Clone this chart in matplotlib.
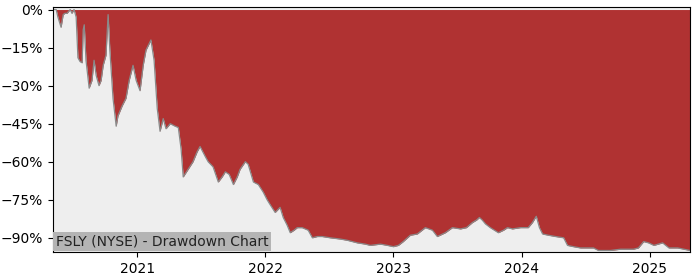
import matplotlib
matplotlib.use("Agg")
import matplotlib.pyplot as plt
import matplotlib.dates as mdates
from matplotlib.ticker import FuncFormatter
import pandas as pd

dates = [
    "2020-05-06", "2020-05-15", "2020-05-20", "2020-05-29", "2020-06-04", "2020-06-09",
    "2020-06-15", "2020-06-24", "2020-06-29", "2020-07-05", "2020-07-11", "2020-07-16",
    "2020-07-22", "2020-07-28", "2020-07-31", "2020-08-03", "2020-08-08", "2020-08-17",
    "2020-08-25", "2020-08-31", "2020-09-06", "2020-09-14", "2020-09-20", "2020-09-26",
    "2020-10-04", "2020-10-10", "2020-10-15", "2020-10-24", "2020-11-02", "2020-11-07",
    "2020-11-19", "2020-11-30", "2020-12-09", "2020-12-20", "2020-12-29", "2021-01-09",
    "2021-01-18", "2021-01-26", "2021-02-09", "2021-02-18", "2021-02-27", "2021-03-07",
    "2021-03-16", "2021-03-24", "2021-04-05", "2021-04-19", "2021-04-28", "2021-05-06",
    "2021-05-12", "2021-05-26", "2021-06-09", "2021-06-21", "2021-06-29", "2021-07-14",
    "2021-07-22", "2021-08-05", "2021-08-20", "2021-08-31", "2021-09-09", "2021-09-20",
    "2021-10-02", "2021-10-13", "2021-10-21", "2021-11-05", "2021-11-13", "2021-11-28",
    "2021-12-12", "2021-12-26", "2022-01-06", "2022-01-15", "2022-01-29", "2022-02-12",
    "2022-02-21", "2022-03-04", "2022-03-13", "2022-03-24", "2022-04-02", "2022-04-16",
    "2022-05-03", "2022-05-15", "2022-05-29", "2022-06-12", "2022-07-05", "2022-08-03",
    "2022-08-23", "2022-09-20", "2022-10-13", "2022-10-27", "2022-11-25", "2022-12-15",
    "2023-01-01", "2023-01-15", "2023-01-29", "2023-02-18", "2023-03-10", "2023-04-02",
    "2023-04-22", "2023-05-06", "2023-05-29", "2023-06-18", "2023-07-11", "2023-07-28",
    "2023-08-14", "2023-08-26", "2023-09-03", "2023-09-11", "2023-09-20", "2023-10-04",
    "2023-10-27", "2023-11-11", "2023-11-22", "2023-12-06", "2023-12-29", "2024-01-20",
    "2024-02-01", "2024-02-12", "2024-02-21", "2024-03-01", "2024-03-18", "2024-04-07",
    "2024-04-30", "2024-05-11", "2024-05-28", "2024-06-17", "2024-07-24", "2024-08-07",
    "2024-09-10", "2024-10-09", "2024-11-15", "2024-11-29", "2024-12-14", "2024-12-28",
    "2025-01-12", "2025-02-06", "2025-02-24", "2025-03-21", "2025-04-08", "2025-04-25",
]
drawdown = [
    0, 0, -3, -7, -2, -1.5,
    -1.5, 0, -1.5, 0, -3, -19,
    -20.5, -21, -8, -6, -20, -31,
    -28, -20, -26, -30, -28, -22,
    -18, -2, -16, -35, -46, -42,
    -38, -35, -28, -22, -28, -32,
    -22, -16, -12, -20, -39, -48,
    -43, -47, -45, -46, -46.5, -55,
    -66, -63, -60, -56, -54, -58,
    -60, -62, -68, -66, -64, -65,
    -69, -66, -63, -60, -61, -68,
    -69, -72, -75, -77, -80, -78,
    -82, -85, -88, -87, -86, -86,
    -87, -90, -89.5, -89.5, -90, -90.5,
    -91, -92, -92.5, -93, -92.5, -93,
    -93.5, -93, -91.5, -89, -88.5, -86,
    -87, -89.5, -88, -86, -86.5, -86,
    -84, -83, -82, -83, -84.5, -86,
    -88, -87, -86, -86.5, -86, -86,
    -84, -81.5, -86, -88.5, -89, -89.5,
    -90, -93, -93.5, -94, -94, -95,
    -95, -94.5, -94.5, -94, -91.5, -92,
    -93, -92, -94, -94, -94.5, -95,
]
title = "FSLY (NYSE) - Drawdown Chart"
yticks = [0, -15, -30, -45, -60, -75, -90]

x = pd.to_datetime(dates)

fig = plt.figure(figsize=(7, 2.8), dpi=100)
ax = fig.add_axes([53 / 700, 28 / 280, 637 / 700, 245 / 280])
ax.set_facecolor("#eeeeee")
ax.fill_between(x, drawdown, 0, color="#b03232", linewidth=0)
ax.plot(x, drawdown, color="#8a8a8a", linewidth=0.9)

ax.set_xlim(x[0], x[-1])
ax.set_ylim(-95.6, 1.0)
ax.set_yticks(yticks)
ax.yaxis.set_major_formatter(FuncFormatter(lambda v, p: ("%d%%" % v).replace("-", "\u2212")))
ax.xaxis.set_major_locator(mdates.YearLocator())
ax.xaxis.set_major_formatter(mdates.DateFormatter("%Y"))
ax.tick_params(labelsize=10)

ax.annotate(title, xy=(0, 0), xycoords="axes fraction", xytext=(2.2, 2.6),
            textcoords="offset points", ha="left", va="bottom", fontsize=10,
            color="#222222",
            bbox=dict(boxstyle="square,pad=0.2", facecolor="#b4b4b4", edgecolor="none"))

fig.savefig("out.png", dpi=100)
